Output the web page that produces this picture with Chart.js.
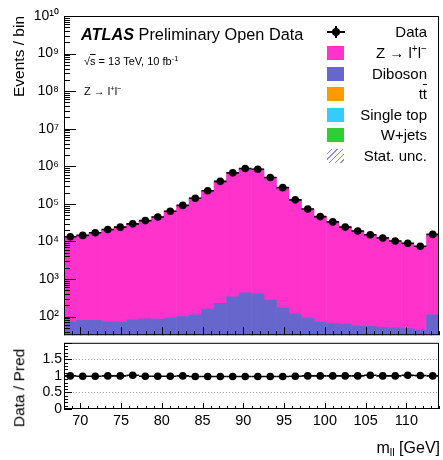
<!DOCTYPE html>
<html>
<head>
<meta charset="utf-8">
<title>Z → ll invariant mass</title>
<script src="https://cdn.jsdelivr.net/npm/chart.js@4.4.1/dist/chart.umd.min.js"></script>
<style>
  html, body { margin: 0; padding: 0; background: #fff; }
  #plot { position: relative; width: 443px; height: 460px; overflow: hidden;
          font-family: 'Liberation Sans', Arial, Helvetica, sans-serif; color: #000; }
  #plot canvas { position: absolute; left: 0; }
  #main { top: 0; }
  #ratio { top: 339px; }
  .txt { position: absolute; white-space: nowrap; line-height: 1; }
  .ov { text-decoration: overline; }
  sup { font-size: 68%; vertical-align: 0.55em; line-height: 0; }
  sub { font-size: 68%; vertical-align: -0.3em; line-height: 0; }
  .leg { position: absolute; left: 0; width: 443px; height: 20px; }
  .leg .box { position: absolute; left: 327px; top: 3px; width: 17px; height: 14px; }
  .leg .lbl { position: absolute; right: 16px; top: 2px; font-size: 15px; line-height: 1; white-space: nowrap; }
  .hatch { background: repeating-linear-gradient(135deg, #fff 0 3px, #8c8ce0 3px 4px); }
  .dataMark { position: absolute; left: 327px; top: 0; width: 18px; height: 20px; }
  .dataMark .h { position: absolute; left: 0; top: 9px; width: 18px; height: 2px; background: #000; }
  .dataMark .v { position: absolute; left: 8px; top: 4px; width: 2px; height: 12px; background: #000; }
  .dataMark .dot { position: absolute; left: 5px; top: 6px; width: 8px; height: 8px; border-radius: 50%; background: #000; }
  .rot { transform: translate(-50%, -50%) rotate(-90deg); }
</style>
</head>
<body>
<div id="plot">
  <canvas id="main" width="443" height="339"></canvas>
  <canvas id="ratio" width="443" height="121"></canvas>

  <div class="txt" style="left:81px; top:26px; font-size:16.3px"><b><i>ATLAS</i></b> Preliminary Open Data</div>
  <div class="txt" style="left:84px; top:56px; font-size:11px">√<span class="ov">s</span> = 13 TeV, 10 fb<sup>-1</sup></div>
  <div class="txt" style="left:84px; top:86px; font-size:11px">Z → l<sup>+</sup>l<sup>−</sup></div>

  <div class="leg" style="top:22px"><div class="dataMark"><div class="h"></div><div class="v"></div><div class="dot"></div></div><div class="lbl">Data</div></div>
  <div class="leg" style="top:43px"><div class="box" style="background:#ff33cc"></div><div class="lbl">Z → l<sup>+</sup>l<sup>−</sup></div></div>
  <div class="leg" style="top:63.5px"><div class="box" style="background:#6666cc"></div><div class="lbl">Diboson</div></div>
  <div class="leg" style="top:84px"><div class="box" style="background:#ff9900"></div><div class="lbl">t<span class="ov">t</span></div></div>
  <div class="leg" style="top:104.5px"><div class="box" style="background:#33ccff"></div><div class="lbl">Single top</div></div>
  <div class="leg" style="top:125px"><div class="box" style="background:#33cc33"></div><div class="lbl">W+jets</div></div>
  <div class="leg" style="top:145.5px"><div class="box hatch"></div><div class="lbl">Stat. unc.</div></div>

  <div class="txt rot" style="left:19px; top:388px; font-size:15.5px">Data / Pred</div>
  <div class="txt" style="right:3px; top:440px; font-size:16px">m<sub>ll</sub> [GeV]</div>
</div>

<script>
// 30 bins of m_ll between 68 and 114 GeV
const binCenters = [68.77, 70.30, 71.83, 73.37, 74.90, 76.43, 77.97, 79.50, 81.03, 82.57,
                    84.10, 85.63, 87.17, 88.70, 90.23, 91.77, 93.30, 94.83, 96.37, 97.90,
                    99.43, 100.97, 102.50, 104.03, 105.57, 107.10, 108.63, 110.17, 111.70, 113.23];

const dataCounts = [13400, 14500, 17000, 20800, 24000, 29400, 35900, 44900, 63400, 91000,
                    141000, 224000, 398000, 670000, 871000, 832000, 502000, 270000, 128000, 72800,
                    45800, 33100, 24100, 18900, 15100, 12400, 10300, 8940, 7460, 15400];

const zllCounts = [13330, 14570, 17090, 20730, 23930, 28740, 36180, 45270, 63950, 90900,
                   143770, 228410, 405900, 683340, 888350, 848580, 511970, 275340, 129180, 72710,
                   45730, 33040, 24040, 18840, 14750, 12350, 10250, 8717, 7342, 15290];

const dibosonCounts = [70, 79, 79, 74, 74, 82, 87, 86, 91, 100,
                       111, 159, 224, 335, 427, 402, 275, 170, 118, 92,
                       74, 65, 63, 56, 55, 52, 50, 48, 44, 111];

const ratioValues = [1.00, 0.99, 0.99, 1.00, 1.00, 1.02, 0.99, 0.99, 0.99, 1.00,
                     0.98, 0.98, 0.98, 0.98, 0.98, 0.98, 0.98, 0.98, 0.99, 1.00,
                     1.00, 1.00, 1.00, 1.00, 1.02, 1.00, 1.00, 1.02, 1.01, 1.00];

const mainTickValues = [1e2, 1e3, 1e4, 1e5, 1e6, 1e7, 1e8, 1e9, 1e10];
const ratioTickValues = [0, 0.5, 1, 1.5];
const massTickValues = [70, 75, 80, 85, 90, 95, 100, 105, 110];

const binHalf = (binCenters[1] - binCenters[0]) / 2;
const FONT = "'Liberation Sans', Arial, Helvetica, sans-serif";
Chart.defaults.font.family = FONT;
Chart.defaults.color = '#000';

const toXY = (vals) => vals.map((v, i) => ({ x: binCenters[i], y: v }));

const SUP = '⁰¹²³⁴⁵⁶⁷⁸⁹';
function powerLabel(v) {
  const e = Math.round(Math.log10(v));
  return '10' + String(e).split('').map(d => SUP[+d]).join('');
}

// fixed axis boxes so both pads share the same plot edges
function fixedWidth(w) {
  return (scale) => {
    scale.width = w;
    scale.paddingTop = 0;
    scale.paddingBottom = 0;
  };
}
function fixedHeight(h) {
  return (scale) => {
    scale.height = h;
    scale.paddingLeft = 0;
    scale.paddingRight = 0;
  };
}

function seg(ctx, x1, y1, x2, y2) {
  ctx.beginPath();
  ctx.moveTo(x1, y1);
  ctx.lineTo(x2, y2);
  ctx.stroke();
}

// ROOT-style frame with ticks drawn inside the pad
function drawFrame(chart, yTicks, xMajor, xMinor) {
  const { ctx, chartArea: a, scales } = chart;
  ctx.save();
  ctx.strokeStyle = '#000';
  ctx.lineWidth = 1;
  const xs = scales.x;
  for (let v = Math.ceil(xs.min); v <= xs.max; v++) {
    const px = Math.round(xs.getPixelForValue(v)) + 0.5;
    seg(ctx, px, a.bottom, px, a.bottom - (v % 5 === 0 ? xMajor : xMinor));
  }
  yTicks.forEach(([v, len]) => {
    const py = Math.round(scales.y.getPixelForValue(v)) + 0.5;
    seg(ctx, a.left, py, a.left + len, py);
  });
  ctx.strokeRect(a.left + 0.5, a.top + 0.5, a.right - a.left - 1, a.bottom - a.top - 1);
  ctx.restore();
}

// horizontal bars spanning each data bin
const binBars = {
  id: 'binBars',
  afterDatasetsDraw(chart) {
    const { ctx, chartArea: a } = chart;
    const xs = chart.scales.x;
    chart.data.datasets.forEach((ds, i) => {
      if (!ds.binBars) return;
      ctx.save();
      ctx.beginPath();
      ctx.rect(a.left, a.top, a.right - a.left, a.bottom - a.top);
      ctx.clip();
      ctx.strokeStyle = '#000';
      ctx.lineWidth = 1.6;
      chart.getDatasetMeta(i).data.forEach((pt, j) => {
        seg(ctx, xs.getPixelForValue(binCenters[j] - binHalf), pt.y,
                 xs.getPixelForValue(binCenters[j] + binHalf), pt.y);
      });
      ctx.restore();
    });
  }
};

const mainFrame = {
  id: 'mainFrame',
  afterDraw(chart) {
    const ys = chart.scales.y;
    const ticks = [];
    for (let e = 1; e <= 10; e++) {
      for (let k = 1; k <= 9; k++) {
        const v = k * Math.pow(10, e);
        if (v >= ys.min && v <= ys.max) ticks.push([v, k === 1 ? 12 : 6]);
      }
    }
    drawFrame(chart, ticks, 8, 4);
  }
};

const ratioFrame = {
  id: 'ratioFrame',
  beforeDatasetsDraw(chart) {
    const { ctx, chartArea: a, scales } = chart;
    ctx.save();
    ctx.strokeStyle = '#a0a0a0';
    ctx.lineWidth = 1;
    ctx.setLineDash([1, 2]);
    [0.5, 1, 1.5].forEach(v => {
      const py = Math.round(scales.y.getPixelForValue(v)) + 0.5;
      seg(ctx, a.left, py, a.right, py);
    });
    ctx.restore();
  },
  afterDraw(chart) {
    const ticks = [];
    for (let i = 0; i <= 20; i++) ticks.push([i / 10, i % 5 === 0 ? 8 : 4]);
    drawFrame(chart, ticks, 6, 3);
  }
};

const pointStyle = {
  showLine: false,
  pointRadius: 3.8,
  pointHoverRadius: 3.8,
  pointBackgroundColor: '#000',
  pointBorderWidth: 0,
  binBars: true,
};

const mainChart = new Chart(document.getElementById('main'), {
  data: {
    datasets: [
      { type: 'line', label: 'Data', data: toXY(dataCounts), stack: 'data', order: 0, ...pointStyle },
      { type: 'bar', label: 'Diboson', data: toXY(dibosonCounts), stack: 'mc', order: 1,
        backgroundColor: '#6666cc', borderWidth: 0, barPercentage: 1, categoryPercentage: 1 },
      { type: 'bar', label: 'Z → l+l-', data: toXY(zllCounts), stack: 'mc', order: 1,
        backgroundColor: '#ff33cc', borderWidth: 0, barPercentage: 1, categoryPercentage: 1 },
    ],
  },
  options: {
    responsive: false,
    animation: false,
    layout: { padding: { top: 16, right: 4, bottom: 0, left: 0 } },
    scales: {
      x: { type: 'linear', min: 68, max: 114, offset: false, display: false, stacked: true },
      y: {
        type: 'logarithmic',
        min: 32,
        max: 1e10,
        stacked: true,
        afterFit: fixedWidth(64),
        afterBuildTicks(scale) { scale.ticks = mainTickValues.map(value => ({ value })); },
        grid: { display: false, drawTicks: false },
        border: { display: false },
        ticks: { autoSkip: false, padding: 5, font: { size: 14 }, callback: powerLabel },
        title: {
          display: true,
          text: 'Events / bin',
          align: 'end',
          font: { size: 15.5 },
          padding: { top: 10, bottom: 0 },
        },
      },
    },
    plugins: { legend: { display: false }, tooltip: { enabled: false } },
  },
  plugins: [binBars, mainFrame],
});

const ratioChart = new Chart(document.getElementById('ratio'), {
  data: {
    datasets: [
      { type: 'line', label: 'Data / Pred', data: toXY(ratioValues), ...pointStyle },
    ],
  },
  options: {
    responsive: false,
    animation: false,
    layout: { padding: { top: 0, right: 4, bottom: 0, left: 0 } },
    scales: {
      x: {
        type: 'linear',
        min: 68,
        max: 114,
        afterFit: fixedHeight(51),
        afterBuildTicks(scale) { scale.ticks = massTickValues.map(value => ({ value })); },
        grid: { display: false, drawTicks: false },
        border: { display: false },
        ticks: { autoSkip: false, maxRotation: 0, padding: 3, font: { size: 14.5 }, callback: v => String(v) },
      },
      y: {
        type: 'linear',
        min: 0,
        max: 2,
        afterFit: fixedWidth(64),
        afterBuildTicks(scale) { scale.ticks = ratioTickValues.map(value => ({ value })); },
        grid: { display: false, drawTicks: false },
        border: { display: false },
        ticks: { autoSkip: false, padding: 2, font: { size: 14 }, callback: v => String(v) },
      },
    },
    plugins: { legend: { display: false }, tooltip: { enabled: false } },
  },
  plugins: [ratioFrame, binBars],
});
</script>
</body>
</html>
